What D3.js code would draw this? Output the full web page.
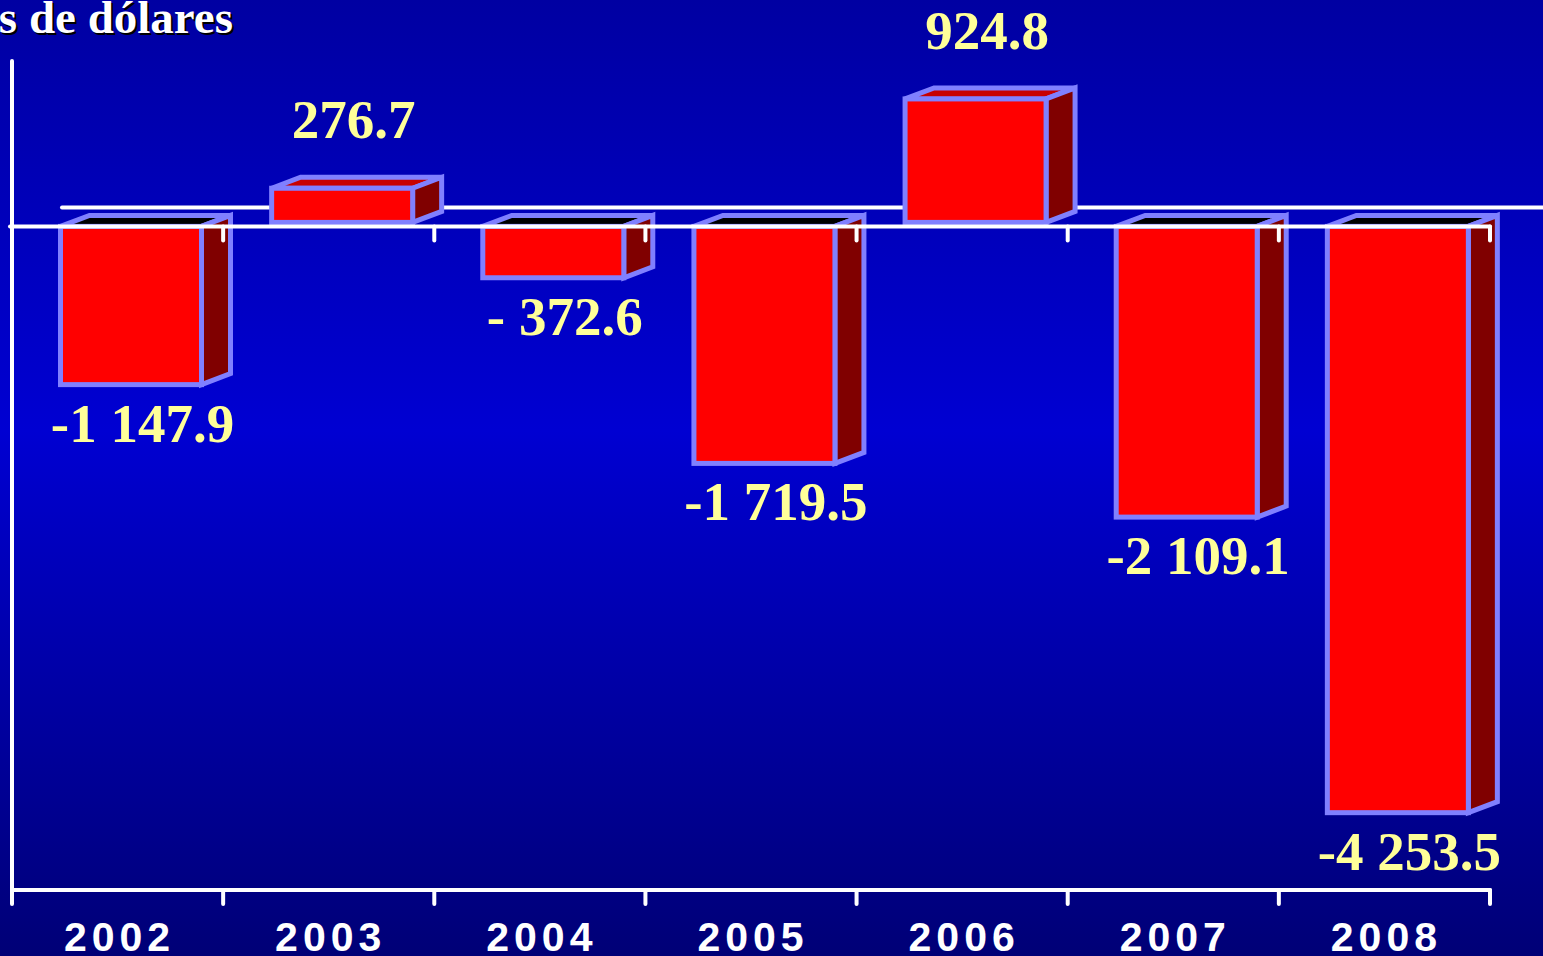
<!DOCTYPE html>
<html>
<head>
<meta charset="utf-8">
<script src="https://cdn.jsdelivr.net/npm/d3@7"></script>
<style>
  html, body { margin: 0; padding: 0; overflow: hidden; background: #0000a0; }
  svg { display: block; }
</style>
</head>
<body>
<script>
// Balance by year, millions of dollars
const years = ["2002", "2003", "2004", "2005", "2006", "2007", "2008"];
const values = [-1147.9, 276.7, -372.6, -1719.5, 924.8, -2109.1, -4253.5];
const valueLabels = ["-1 147.9", "276.7", "- 372.6", "-1 719.5", "924.8", "-2 109.1", "-4 253.5"];
const unitTitle = "Millones de dólares";

const W = 1543, H = 956;
const svg = d3.select("body").append("svg").attr("width", W).attr("height", H);

// background gradient
const defs = svg.append("defs");
const grad = defs.append("linearGradient").attr("id", "bg")
  .attr("x1", 0).attr("y1", 0).attr("x2", 0).attr("y2", 1);
grad.append("stop").attr("offset", "0%").attr("stop-color", "#0000a2");
grad.append("stop").attr("offset", "45%").attr("stop-color", "#0000d2");
grad.append("stop").attr("offset", "100%").attr("stop-color", "#000076");
svg.append("rect").attr("width", W).attr("height", H).attr("fill", "url(#bg)");

// scales
const x = d3.scaleBand().domain(years).range([12, 1490]).padding(0);
const y = d3.scaleLinear().domain([-4800, 1200]).range([888, 61]);
const y0 = y(0);

// 3D geometry
const barOff = 48.5, barW = 141, dx = 29, dy = -11;
const edge = "#8080ff";

// floor back edge
svg.append("line")
  .attr("x1", x.range()[0] + 50).attr("x2", W + 5)
  .attr("y1", y0 - 19).attr("y2", y0 - 19)
  .attr("stroke", "#ffffff").attr("stroke-width", 4).attr("stroke-linecap", "round");

// bars
const data = years.map((yr, i) => ({ yr, v: values[i], label: valueLabels[i] }));
const bars = svg.append("g").selectAll("g").data(data).join("g");

bars.each(function (d) {
  const g = d3.select(this);
  const xa = x(d.yr) + barOff, xb = xa + barW;
  // positive bars sit just above the floor line
  const yt = d.v >= 0 ? y(d.v) : y0;
  const yb = d.v >= 0 ? y0 - 4 : y(d.v);
  // top face
  g.append("polygon")
    .attr("points", [[xa, yt], [xa + dx, yt + dy], [xb + dx, yt + dy], [xb, yt]].join(" "))
    .attr("fill", d.v >= 0 ? "#c80000" : "#000000")
    .attr("stroke", edge).attr("stroke-width", 5).attr("stroke-linejoin", "miter");
  // side face
  g.append("polygon")
    .attr("points", [[xb, yt], [xb + dx, yt + dy], [xb + dx, yb + dy], [xb, yb]].join(" "))
    .attr("fill", "#800000")
    .attr("stroke", edge).attr("stroke-width", 5).attr("stroke-linejoin", "miter");
  // front face
  g.append("rect")
    .attr("x", xa).attr("y", yt).attr("width", barW).attr("height", yb - yt)
    .attr("fill", "#ff0000")
    .attr("stroke", edge).attr("stroke-width", 5);
});

// zero line with ticks
const axisW = svg.append("g").attr("stroke", "#ffffff").attr("stroke-width", 4)
  .attr("stroke-linecap", "round").attr("fill", "none");
axisW.append("line").attr("x1", 10).attr("x2", 1490).attr("y1", y0).attr("y2", y0);
const bounds = years.map(yr => x(yr) + x.bandwidth());
axisW.selectAll("line.zt").data(bounds).join("line").attr("class", "zt")
  .attr("x1", d => d).attr("x2", d => d).attr("y1", y0).attr("y2", y0 + 14);

// value axis and category axis
const yTop = y(1200), yBot = 890;
axisW.append("line").attr("x1", 12).attr("x2", 12).attr("y1", yTop).attr("y2", yBot + 14);
axisW.append("line").attr("x1", 12).attr("x2", 1490).attr("y1", yBot).attr("y2", yBot);
axisW.selectAll("line.bt").data(bounds).join("line").attr("class", "bt")
  .attr("x1", d => d).attr("x2", d => d).attr("y1", yBot).attr("y2", yBot + 14);

// year labels
svg.append("g").selectAll("text").data(years).join("text")
  .attr("x", d => x(d) + x.bandwidth() / 2 + 2)
  .attr("y", 951)
  .attr("text-anchor", "middle")
  .attr("font-family", "'Liberation Sans', Arial, sans-serif")
  .attr("font-weight", "bold")
  .attr("font-size", 41)
  .attr("letter-spacing", 5)
  .attr("fill", "#ffffff")
  .text(d => d);

// value labels
svg.append("g").selectAll("text").data(data).join("text")
  .attr("x", d => x(d.yr) + barOff + (barW + dx) / 2 - 3)
  .attr("y", d => d.v >= 0 ? y(d.v) - 50 : y(d.v) + 57)
  .attr("text-anchor", "middle")
  .attr("font-family", "'Liberation Serif', 'Times New Roman', serif")
  .attr("font-weight", "bold")
  .attr("font-size", 55)
  .attr("fill", "#ffff99")
  .style("white-space", "pre")
  .text(d => d.label);

// unit title with drop shadow
const title = svg.append("g")
  .attr("font-family", "'Liberation Serif', 'Times New Roman', serif")
  .attr("font-weight", "bold")
  .attr("font-size", 47)
  .attr("text-anchor", "end");
title.append("text").attr("x", 235).attr("y", 35).attr("fill", "#000000").text(unitTitle);
title.append("text").attr("x", 233).attr("y", 33).attr("fill", "#ffffff").text(unitTitle);
</script>
</body>
</html>
